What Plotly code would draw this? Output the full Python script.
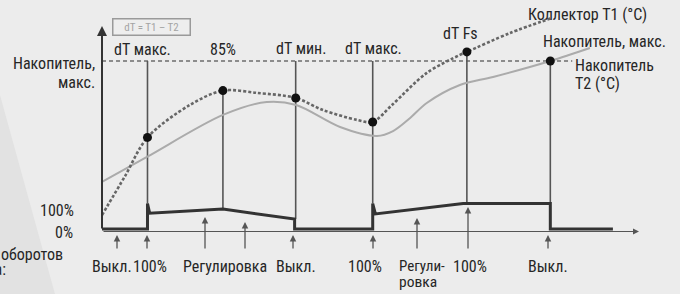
import plotly.graph_objects as go

# ---------------- data ----------------
# time axis (0..100 = whole diagram), temperature in % of "storage max" (100)
t1_time = [0, 4.3, 8.5, 16.4, 22.6, 29.0, 36.2, 41.3, 47.7, 50.6, 54.2, 60.7, 66.9, 68.2, 76.3, 84.0]
t1_temp = [8.3, 31.5, 54.5, 73.8, 82.4, 81.0, 78.0, 70.8, 64.9, 63.7, 73.8, 92.9, 103.6, 105.4, 116.7, 125.5]

t2_time = [0, 8.4, 22.6, 30.8, 36.3, 44.5, 51.4, 54.4, 57.6, 60.7, 66.9, 73.1, 83.8, 91.2]
t2_temp = [28.0, 42.9, 67.9, 75.6, 73.8, 60.7, 55.4, 58.3, 66.1, 75.0, 85.7, 90.5, 100.0, 107.7]

storage_max = 100.0
storage_max_end = 87.9

event_time = [8.5, 22.6, 36.2, 50.6, 68.2, 83.8]
event_top = [100.0, 82.4, 100.0, 100.0, 105.4, 100.0]
event_pump = [100, 78, 40, 100, 100, 100]

dot_time = [8.5, 22.6, 36.2, 50.6, 68.2, 83.8]
dot_temp = [54.5, 82.4, 78.0, 63.7, 105.4, 100.0]

pump_time = [0, 8.5, 8.5, 8.9, 22.6, 36.0, 36.0, 50.6, 50.6, 51.1, 67.5, 83.8, 83.8, 95.5]
pump_speed = [0, 0, 100, 62, 78, 39, 0, 0, 100, 59, 100, 100, 0, 0]

top_labels = ["dT макс.", "85%", "dT мин.", "dT макс.", "dT Fs"]
bottom_labels = ["Выкл.", "100%", "Регулировка", "Выкл.", "100%", "Регули-", "100%", "Выкл."]

# ---------------- layout helpers ----------------
W, H = 680, 294
T_RANGE = [-38.69, 136.31]
P_RANGE = [-254.9, 898.0]
X_RANGE = [-19.07, 108.04]

def pump_to_temp(p):
    f = (p - P_RANGE[0]) / (P_RANGE[1] - P_RANGE[0])
    return T_RANGE[0] + f * (T_RANGE[1] - T_RANGE[0])

def px(x):
    return x / W

def py(y):
    return 1 - y / H

FONT = "'Liberation Sans Narrow', 'Roboto Condensed', 'DejaVu Sans Condensed', 'Arial Narrow', sans-serif"
TXT = "#262626"

fig = go.Figure()

# storage max dashed line
fig.add_trace(go.Scatter(x=[0, storage_max_end], y=[storage_max, storage_max], mode="lines",
                         line=dict(color="#8c8c8c", width=2, dash="4px,3px"), hoverinfo="skip"))

# event vertical lines
for t, top, p in zip(event_time, event_top, event_pump):
    fig.add_trace(go.Scatter(x=[t, t], y=[top, pump_to_temp(p)], mode="lines",
                             line=dict(color="#555555", width=1.6), hoverinfo="skip"))

# storage T2
fig.add_trace(go.Scatter(x=t2_time, y=t2_temp, mode="lines", line_shape="spline",
                         line=dict(color="#ababab", width=2, smoothing=0.9), hoverinfo="skip"))
# collector T1
fig.add_trace(go.Scatter(x=t1_time, y=t1_temp, mode="lines", line_shape="spline",
                         line=dict(color="#666666", width=2.6, dash="3px,2px", smoothing=0.9),
                         hoverinfo="skip"))
# dots
fig.add_trace(go.Scatter(x=dot_time, y=dot_temp, mode="markers",
                         marker=dict(color="#111111", size=9), hoverinfo="skip"))
# pump speed
fig.add_trace(go.Scatter(x=pump_time, y=pump_speed, yaxis="y2", mode="lines",
                         line=dict(color="#333333", width=3), hoverinfo="skip"))

ann = []
# axes arrows (offsets in pixels)
ann.append(dict(x=px(102), y=py(26), xref="paper", yref="paper", ax=0, ay=230 - 26,
                showarrow=True, arrowhead=2, arrowsize=1, arrowwidth=2,
                arrowcolor="#333333", text=""))
ann.append(dict(x=px(639), y=py(231.5), xref="paper", yref="paper", ax=-(639 - 102), ay=0,
                showarrow=True, arrowhead=2, arrowsize=1.2, arrowwidth=1,
                arrowcolor="#555555", text=""))

# small event arrows below the pump curve
arrow_x = [117, 147, 205, 245, 293, 373, 417, 468, 548]
arrow_head = [235, 235, 217, 222, 235, 235, 218, 207, 235]
for xa, yh in zip(arrow_x, arrow_head):
    ann.append(dict(x=px(xa), y=py(yh), xref="paper", yref="paper", ax=0, ay=250 - yh,
                    showarrow=True, arrowhead=2, arrowsize=1, arrowwidth=1.3,
                    arrowcolor="#555555", text=""))

def label(text, x, y, anchor="center", size=16, color=TXT):
    ann.append(dict(text=text, x=px(x), y=py(y), xref="paper", yref="paper", showarrow=False,
                    xanchor=anchor, yanchor="middle", font=dict(family=FONT, size=size, color=color)))

# top labels
for txt, xc, yc in zip(top_labels, [142, 223, 301, 373, 460], [50, 50, 49, 49, 33]):
    label(txt, xc, yc)
label("Коллектор T1 (°C)", 587, 14)
label("Накопитель, макс.", 604, 42)
label("Накопитель", 573, 65, "left")
label("T2 (°C)", 573, 83, "left")

# left labels
label("Накопитель,", 97, 63, "right")
label("макс.", 97, 82, "right")
label("100%", 76, 210, "right")
label("0%", 75, 232, "right")
label("Частота оборотов", 65, 254, "right")
label("насоса:", 8, 269, "right")

# bottom labels
for txt, xc in zip(bottom_labels, [112, 150, 225, 296, 365, None, 470, 548]):
    if xc is not None:
        label(txt, xc, 266)
label("Регули-", 397, 266, "left", size=15)
label("ровка", 397, 282, "left", size=15.5)

# legend box
ann.append(dict(text="dT = T1 – T2", x=px(151), y=py(26.5), xref="paper", yref="paper",
                xanchor="center", yanchor="middle",
                showarrow=False, font=dict(family=FONT, size=11, color="#a4a4a4"),
                bordercolor="#9a9a9a", borderwidth=1.5, borderpad=1, bgcolor="#eeeeee",
                width=74, height=13))

shapes = [dict(type="path", xref="paper", yref="paper",
               path=f"M 0 {py(95)} L {px(55)} 0 L 0 0 Z",
               fillcolor="#e2e2e2", line=dict(width=0), layer="below")]

fig.update_layout(
    width=W, height=H, autosize=False,
    margin=dict(l=0, r=0, t=0, b=0),
    paper_bgcolor="#ececec", plot_bgcolor="rgba(0,0,0,0)",
    showlegend=False,
    xaxis=dict(range=X_RANGE, visible=False, fixedrange=True),
    yaxis=dict(range=T_RANGE, visible=False, fixedrange=True),
    yaxis2=dict(range=P_RANGE, visible=False, overlaying="y", fixedrange=True),
    annotations=ann, shapes=shapes,
)

fig.write_html("out.html", config={"displayModeBar": False},
               post_script="document.body.style.margin='0';document.body.style.overflow='hidden';")
